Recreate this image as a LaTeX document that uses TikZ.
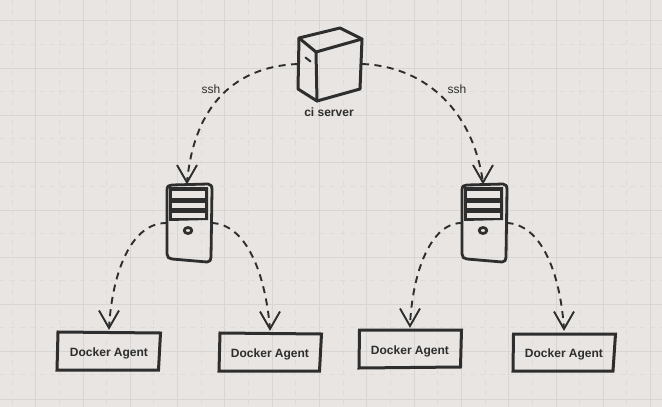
\documentclass[tikz,border=0pt]{standalone}
\usepackage{fontspec}
\setmainfont{Liberation Sans}
\definecolor{paper}{HTML}{E8E5E2}
\definecolor{gridsolid}{HTML}{D8D6D4}
\definecolor{griddash}{HTML}{DEDBD9}
\definecolor{ink}{HTML}{2E2E2E}
\tikzset{
  gridmajor/.style={draw=gridsolid,line width=0.9pt},
  gridminor/.style={draw=griddash,line width=0.9pt,dash pattern=on 5pt off 5pt},
  sketch/.style={draw=ink,line width=3pt,line join=round,line cap=round},
  thinsketch/.style={draw=ink,line width=2pt,line join=round,line cap=round},
  link/.style={draw=ink,line width=1.9pt,dash pattern=on 7pt off 5.5pt},
  barb/.style={draw=ink,line width=1.9pt,line join=miter},
  agentbox/.style={font=\bfseries\fontsize{12}{14}\selectfont,text=ink,minimum width=102pt,minimum height=38pt,inner sep=0pt,outer sep=4pt},
  iconbox/.style={minimum width=44pt,minimum height=78pt,inner sep=0pt,outer sep=0pt},
  cubebox/.style={minimum width=64pt,minimum height=74pt,inner sep=0pt,outer sep=0pt},
  caption/.style={font=\fontsize{12}{14}\selectfont,text=ink},
  captionb/.style={font=\bfseries\fontsize{12}{14}\selectfont,text=ink}
}
\newcommand{\serverIcon}[1]{%
  \begin{scope}[xshift=#1pt]
    \fill[ink] (169,187) -- (208,187) -- (208,220) -- (169,221) -- cycle;
    \fill[paper] (172,191) -- (205,191) -- (205,197.5) -- (172,197.5) -- cycle;
    \fill[paper] (172,202.5) -- (205,202.5) -- (205,207.5) -- (172,207.5) -- cycle;
    \fill[paper] (172,213) -- (205,213) -- (205,218) -- (172,218) -- cycle;
    \draw[sketch,line width=2.8pt] (167,190) .. controls (167,186) and (169,185) .. (172,185)
      -- (208,184) .. controls (211,184) and (212,186) .. (212,190)
      -- (211,257) .. controls (211,260) and (210,262) .. (207,262)
      -- (172,259) .. controls (169,259) and (167,257) .. (167,254) -- cycle;
    \draw[sketch,line width=2.8pt] (188,230.5) ellipse (3.8 and 3);
  \end{scope}}
\newcommand{\vhead}[1]{\draw[barb] ([xshift=-10pt,yshift=17.5pt]#1) -- (#1) -- ([xshift=10pt,yshift=17.5pt]#1);}
\newcommand{\agentText}{\raisebox{-5.2pt}[0pt][0pt]{Docker Agent}}
\begin{document}
\begin{tikzpicture}[x=1pt,y=-1pt]
\useasboundingbox (0,0) rectangle (662,407);
\fill[paper] (0,0) rectangle (662,407);
\foreach \i in {0,...,13}{
  \draw[gridminor] ({12+47.3*\i},0) -- ({12+47.3*\i},407);
  \draw[gridmajor] ({35.7+47.3*\i},0) -- ({35.7+47.3*\i},407);
}
\foreach \j in {0,...,7}{
  \draw[gridminor] (0,{44.5+47.2*\j}) -- (662,{44.5+47.2*\j});
  \draw[gridmajor] (0,{20.8+47.3*\j}) -- (662,{20.8+47.3*\j});
}
\draw[gridmajor] (0,399.3) -- (662,399.3);
% icons' frames
\node[cubebox] (ci) at (330,64) {};
\node[iconbox] (srvL) at (189.5,223) {};
\node[iconbox] (srvR) at (484.5,223) {};
\coordinate (tipL) at (187,182.5);
\coordinate (tipR) at (483,182.5);
% ci server
\draw[sketch] (299,38) -- (340,28) -- (362,39) -- (360,89) -- (317,101) -- (298,89) -- cycle;
\draw[sketch] (299,38) -- (316,52) -- (362,39);
\draw[sketch] (316,52) -- (317,101);
\draw[thinsketch] (305.5,57.5) -- (310.5,61.5);
\node[captionb] (cilabel) at (329,112) {ci server};
% servers
\serverIcon{0}
\serverIcon{295}
% agents
\draw[sketch,line cap=butt,line join=miter] (58,332) -- (160.5,333) -- (158.5,370) -- (57,370) -- cycle;
\draw[sketch,line cap=butt,line join=miter] (220,333) -- (321.5,334) -- (319.5,371) -- (219,371) -- cycle;
\draw[sketch,line cap=butt,line join=miter] (359.5,330) -- (461.5,330) -- (460.5,367) -- (359,368) -- cycle;
\draw[sketch,line cap=butt,line join=miter] (513.5,334) -- (615.5,334) -- (613,371) -- (513,371) -- cycle;
\node[agentbox] (a1) at (109,351) {\agentText};
\node[agentbox] (a2) at (270,352) {\agentText};
\node[agentbox] (a3) at (410,349) {\agentText};
\node[agentbox] (a4) at (564,352) {\agentText};
% connectors
\draw[link] (ci.west) .. controls (245,66) and (195,95) .. (tipL);
\draw[link] (ci.east) .. controls (420,66) and (472,105) .. (tipR);
\draw[link] (srvL.west) .. controls (130,222) and (112,275) .. (a1.north);
\draw[link] (srvL.east) .. controls (245,224) and (265,270) .. (a2.north);
\draw[link] (srvR.west) .. controls (430,222) and (412,275) .. (a3.north);
\draw[link] (srvR.east) .. controls (540,224) and (560,270) .. (a4.north);
\vhead{tipL}
\vhead{tipR}
\vhead{a1.north}
\vhead{a2.north}
\vhead{a3.north}
\vhead{a4.north}
\node[caption] (sshL) at (211,89) {ssh};
\node[caption] (sshR) at (457,89) {ssh};
\end{tikzpicture}
\end{document}
